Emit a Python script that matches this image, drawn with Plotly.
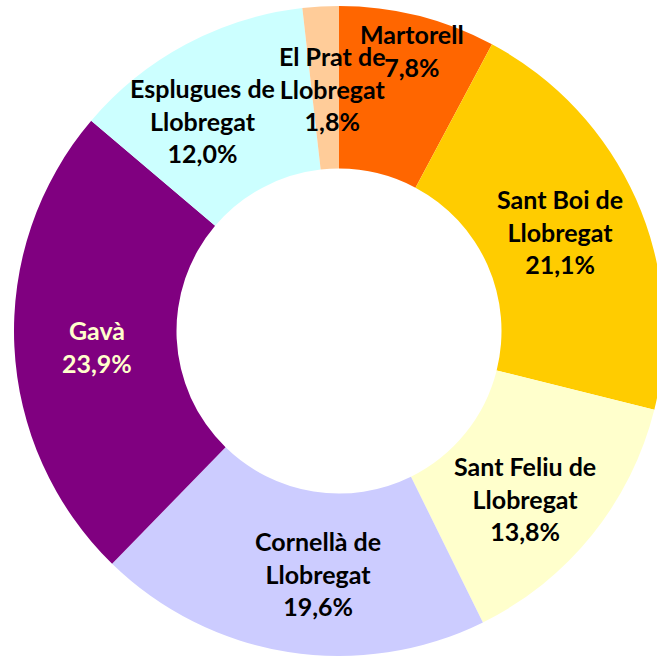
import math
import plotly.graph_objects as go

# ---- data ----
municipis = ["Martorell", "Sant Boi de Llobregat", "Sant Feliu de Llobregat",
             "Cornellà de Llobregat", "Gavà", "Esplugues de Llobregat",
             "El Prat de Llobregat"]
label_lines = ["Martorell", "Sant Boi de<br>Llobregat", "Sant Feliu de<br>Llobregat",
               "Cornellà de<br>Llobregat", "Gavà", "Esplugues de<br>Llobregat",
               "El Prat de<br>Llobregat"]
percentatges = [7.8, 21.1, 13.8, 19.6, 23.9, 12.0, 1.8]

# ---- styles ----
colors = ["#FF6600", "#FFCC00", "#FFFFCC", "#CCCCFF", "#800080", "#CCFFFF", "#FFCC99"]
text_colors = ["#000000", "#000000", "#000000", "#000000", "#FFFFCC", "#000000", "#000000"]
# pixel nudges of each label from its slice mid-point
nudges = [(13, -42), (-4, 0), (-6, 13), (17, 0), (4, 4), (-21, 7), (7, 3)]

# figure is slightly wider than the window; the page clips the right edge
W, H = 680, 656
cx, cy, radius = 339, 331, 325
r_label = 246

fig = go.Figure(go.Pie(
    labels=municipis,
    values=percentatges,
    marker=dict(colors=colors, line=dict(width=0)),
    hole=0.5,
    sort=False,
    direction="clockwise",
    rotation=0,
    textinfo="none",
    hoverinfo="skip",
    showlegend=False,
    domain=dict(x=[(cx - radius) / W, (cx + radius) / W],
                y=[(H - cy - radius) / H, (H - cy + radius) / H]),
))

total = sum(percentatges)
cum = 0.0
annotations = []
for i, v in enumerate(percentatges):
    mid = (cum + v / 2) / total
    cum += v
    theta = 2 * math.pi * mid
    px = cx + r_label * math.sin(theta) + nudges[i][0]
    py = cy - r_label * math.cos(theta) + nudges[i][1]
    txt = f"{label_lines[i]}<br>{v:.1f}".replace(".", ",") + "%"
    annotations.append(dict(
        x=px / W, y=1 - py / H, xref="paper", yref="paper",
        text=txt, showarrow=False, xanchor="center", yanchor="middle",
        align="center",
        font=dict(family="Lato", size=25, color=text_colors[i], weight="bold"),
    ))

fig.update_layout(
    width=W, height=H,
    margin=dict(l=0, r=0, t=0, b=0),
    paper_bgcolor="white",
    plot_bgcolor="white",
    annotations=annotations,
)

fig.write_html("out.html",
               config={"displayModeBar": False, "staticPlot": True},
               post_script="document.body.style.margin='0px';document.body.style.overflow='hidden';")
